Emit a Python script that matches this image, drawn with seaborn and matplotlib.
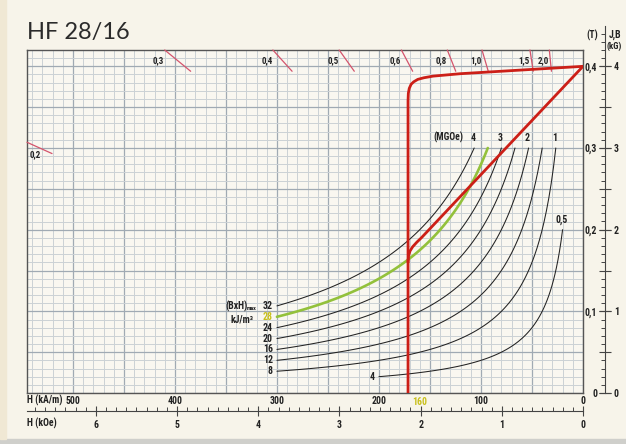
import numpy as np
import pandas as pd
import matplotlib
matplotlib.use("Agg")
import matplotlib.pyplot as plt
import matplotlib.font_manager as fm
from matplotlib.ticker import MultipleLocator, FixedLocator, FuncFormatter, NullFormatter
from matplotlib.patches import Rectangle
import seaborn as sns

# ---------------- data ----------------
title = "HF 28/16"
# energy product iso-lines (kJ/m^3)
energy_kJ = [4, 8, 12, 16, 20, 24, 28, 32]
energy_labels = ["4", "8", "12", "16", "20", "24", "28", "32"]
energy_H_start = [200, 300, 300, 300, 300, 300, 300, 300]   # kA/m
energy_B_end = [0.2, 0.3, 0.3, 0.3, 0.3, 0.3, 0.3, 0.3]       # T
mgoe_curve_kJ = [32, 24, 16, 8, 4]
mgoe_labels = ["4", "3", "2", "1", "0,5"]

# J demagnetisation curve (red)
J_H = [0, 40, 80, 120, 147, 156, 162, 166, 168.5, 170.3, 171.2, 171.5, 171.5]
J_B = [0.400, 0.397, 0.394, 0.391, 0.388, 0.386, 0.384, 0.381, 0.378, 0.373, 0.367, 0.358, 0.0]
# B demagnetisation curve (red)
B_H = [0, 158, 163, 167, 169.5, 171, 171.5]
B_B = [0.400, 0.1906, 0.1845, 0.179, 0.174, 0.168, 0.160]

# permeance marks: H where line meets top edge
perm_labels_top = ["0,3", "0,4", "0,5", "0,6", "0,8", "1,0", "1,5", "2,0"]
perm_H_top = [410, 304, 239, 178, 133, 99, 52, 33]
perm_label_left = "0,2"
perm_B_left = 0.307

H_ticks = [0, 100, 200, 300, 400, 500]
kOe_ticks = [0, 1, 2, 3, 4, 5, 6]
T_ticks = [0, 0.1, 0.2, 0.3, 0.4]
kG_ticks = [0, 1, 2, 3, 4]
HcB_label = "160"

# ---------------- style ----------------
sns.set_theme(style="white")
names = {f.name for f in fm.fontManager.ttflist}
pref = ["Liberation Sans Narrow", "Roboto Condensed", "Open Sans Condensed",
        "Noto Sans Condensed", "DejaVu Sans Condensed"]
CF = [n for n in pref if n in names] + ["DejaVu Sans"]
plt.rcParams["font.family"] = CF
plt.rcParams["font.stretch"] = "condensed"
CW = "bold"
FS = 7

PAPER = "#f7f4ea"
INK = "#222222"
RED = "#cc1f17"
GREEN = "#93c13b"
YEL = "#c9c01c"
PINK = "#d4546c"

W, Hh = 626, 444
fig = plt.figure(figsize=(W / 100, Hh / 100), dpi=100, facecolor=PAPER)

# page edges
fig.patches.append(Rectangle((0, 0), 1, 5 / Hh, transform=fig.transFigure,
                             color="#cfcfcb", zorder=0))
fig.patches.append(Rectangle((0, 5 / Hh), 6 / W, 1, transform=fig.transFigure,
                             color="#f0e8d4", zorder=0))

L, R, T, B = 27, 583, 50, 393
ax = fig.add_axes([L / W, (Hh - B) / Hh, (R - L) / W, (B - T) / Hh])
ax.set_facecolor("#f9f7f0")
XMAX = 545
YMAX = 0.42
ax.set_xlim(XMAX, 0)
ax.set_ylim(0, YMAX)

# grid
ax.xaxis.set_major_locator(MultipleLocator(50))
ax.xaxis.set_minor_locator(MultipleLocator(10))
ax.yaxis.set_major_locator(MultipleLocator(0.05))
ax.yaxis.set_minor_locator(MultipleLocator(0.01))
ax.grid(which="major", color="#a0aab3", lw=0.9)
ax.grid(which="minor", color="#cbd1d5", lw=0.7)
ax.set_axisbelow(True)

# energy product iso-lines
for E, lab, h0, bend in zip(energy_kJ, energy_labels, energy_H_start, energy_B_end):
    Hs = np.linspace(h0, E / bend, 120)
    df = pd.DataFrame({"H": Hs, "B": E / Hs})
    green = (E == 28)
    sns.lineplot(data=df, x="H", y="B", ax=ax, estimator=None, sort=False,
                 color=GREEN if green else INK, lw=1.9 if green else 0.75,
                 zorder=4 if green else 3)
    ax.annotate(lab, (h0, E / h0), xytext=(-4, 0), textcoords="offset pixels",
                ha="right", va="center", fontsize=FS, fontweight=CW,
                color=YEL if green else INK)

for E, lab in zip(mgoe_curve_kJ, mgoe_labels):
    bend = energy_B_end[energy_kJ.index(E)]
    ax.annotate(lab, (E / bend, bend), xytext=(-1, 5), textcoords="offset pixels",
                ha="center", va="bottom", fontsize=FS, fontweight=CW, color=INK)
ax.annotate("(MGOe)", (32 / 0.3, 0.3), xytext=(-26, 5), textcoords="offset pixels",
            ha="center", va="bottom", fontsize=FS, fontweight=CW, color=INK)

# (BxH)max label
ax.annotate("(BxH)", (300, 32 / 300), xytext=(-52, 0), textcoords="offset pixels",
            ha="left", va="center", fontsize=FS, fontweight=CW, color=INK)
ax.annotate("max", (300, 32 / 300), xytext=(-30, -3), textcoords="offset pixels",
            ha="left", va="center", fontsize=4.2, fontweight=CW, color=INK)
ax.annotate("kJ/m³", (300, 28 / 300), xytext=(-46, -3), textcoords="offset pixels",
            ha="left", va="center", fontsize=FS, fontweight=CW, color=INK)

# red curves
sns.lineplot(x=J_H, y=J_B, ax=ax, estimator=None, sort=False, color=RED,
             lw=2.0, zorder=6)
sns.lineplot(x=B_H, y=B_B, ax=ax, estimator=None, sort=False, color=RED,
             lw=2.0, zorder=6)

ax.set_xlabel("")
ax.set_ylabel("")
ax.set_xlim(XMAX, 0)
ax.set_ylim(0, YMAX)
ax.xaxis.set_major_formatter(FuncFormatter(
    lambda v, p: f"{int(round(v))}" if int(round(v)) % 100 == 0 else ""))
ax.yaxis.set_major_formatter(NullFormatter())
ax.tick_params(axis="x", which="both", length=0, pad=2, labelsize=FS,
               labelcolor=INK)
ax.tick_params(axis="y", which="both", length=0)
for lab in ax.get_xticklabels():
    lab.set_fontweight(CW)
for s in ax.spines.values():
    s.set_color("#555555")
    s.set_linewidth(1.0)

# permeance marks
f_top = 0.062
for lab, h in zip(perm_labels_top, perm_H_top):
    ax.plot([h, h * (1 - f_top)], [YMAX, YMAX * (1 - f_top)], color=PINK,
            lw=0.9, zorder=5, clip_on=False)
    ax.annotate(lab, (h, YMAX), xytext=(-6, -11), textcoords="offset pixels",
                ha="center", va="center", fontsize=FS - 0.5, fontweight=CW, color=INK)
f_left = 0.045
ax.plot([XMAX, XMAX * (1 - f_left)], [perm_B_left, perm_B_left * (1 - f_left)],
        color=PINK, lw=0.9, zorder=5, clip_on=False)
ax.annotate(perm_label_left, (XMAX, perm_B_left), xytext=(8, -12),
            textcoords="offset pixels", ha="center", va="center", fontsize=FS - 0.5,
            fontweight=CW, color=INK)

# bottom kOe axis
sec = ax.secondary_xaxis((B - 411) / (B - T),
                         functions=(lambda h: h / 79.577, lambda k: k * 79.577))
sec.set_xticks(kOe_ticks)
sec.xaxis.set_major_formatter(FuncFormatter(lambda v, p: f"{int(round(v))}"))
sec.xaxis.set_minor_locator(MultipleLocator(0.125))
sec.tick_params(which="major", direction="inout", length=6.5, width=0.8,
                color="#444444", pad=3, labelsize=FS, labelcolor=INK)
sec.tick_params(which="minor", direction="in", length=3, width=0.7,
                color="#444444")
for lab in sec.get_xticklabels():
    lab.set_fontweight(CW)
sec.spines["bottom"].set_color("#444444")
sec.spines["bottom"].set_linewidth(0.8)

fig.text(L / W, 1 - 400 / Hh, "H (kA/m)", ha="left", va="center", fontsize=FS,
         fontweight=CW, color=INK)
fig.text(L / W, 1 - 423 / Hh, "H (kOe)", ha="left", va="center", fontsize=FS,
         fontweight=CW, color=INK)
ax.annotate(HcB_label, (160, 0), xytext=(0, -9), textcoords="offset pixels",
            ha="center", va="center", fontsize=FS, fontweight=CW, color=YEL)

# right J,B axis
RX = 605
top_r = 26
ax_r = fig.add_axes([RX / W, (Hh - B) / Hh, 1e-4, (B - top_r) / Hh])
ax_r.set_facecolor("none")
ax_r.set_ylim(0, (B - top_r) / (B - T) * YMAX)
ax_r.set_xticks([])
for k in ["top", "bottom", "right"]:
    ax_r.spines[k].set_visible(False)
ax_r.spines["left"].set_color("#444444")
ax_r.spines["left"].set_linewidth(0.8)
ax_r.yaxis.set_major_locator(FixedLocator(T_ticks))
ax_r.yaxis.set_major_formatter(FuncFormatter(
    lambda v, p: "0" if abs(v) < 1e-9 else f"{v:.1f}".replace(".", ",")))
ax_r.yaxis.set_minor_locator(FixedLocator(
    [i / 100 for i in range(1, 45) if i % 5 != 0]))
ax_r.tick_params(axis="y", which="major", direction="inout", length=8.5,
                 width=0.8, color="#444444", pad=1.5, labelsize=FS,
                 labelcolor=INK)
ax_r.tick_params(axis="y", which="minor", direction="out", length=3, width=0.7,
                 color="#444444")
for lab in ax_r.get_yticklabels():
    lab.set_fontweight(CW)

ax_r2 = ax_r.twinx()
ax_r2.set_ylim(0, (B - top_r) / (B - T) * YMAX * 10)
for k in ax_r2.spines:
    ax_r2.spines[k].set_visible(False)
ax_r2.yaxis.set_major_locator(FixedLocator(kG_ticks))
ax_r2.yaxis.set_major_formatter(FuncFormatter(lambda v, p: f"{int(round(v))}"))
ax_r2.yaxis.set_minor_locator(FixedLocator([0.5, 1.5, 2.5, 3.5]))
ax_r2.tick_params(axis="y", which="major", direction="inout", length=8.5,
                  width=0.8, color="#444444", pad=2, labelsize=FS,
                  labelcolor=INK)
ax_r2.tick_params(axis="y", which="minor", direction="inout", length=8.5,
                  width=0.8, color="#444444")
for lab in ax_r2.get_yticklabels():
    lab.set_fontweight(CW)

fig.text(592 / W, 1 - 35 / Hh, "(T)", ha="center", va="center", fontsize=FS,
         fontweight=CW, color=INK)
fig.text(615 / W, 1 - 35 / Hh, "J,B", ha="center", va="center", fontsize=FS,
         fontweight=CW, color=INK)
fig.text(614 / W, 1 - 46 / Hh, "(kG)", ha="center", va="center", fontsize=FS - 0.5,
         fontweight=CW, color=INK)

# title
fig.text(L / W, 1 - 32 / Hh, title, ha="left", va="center", fontsize=17,
         family=["Lato", "DejaVu Sans"], fontweight="normal", stretch="normal",
         color="#2b2b2b")

fig.savefig("out.png", dpi=100, facecolor=PAPER)
